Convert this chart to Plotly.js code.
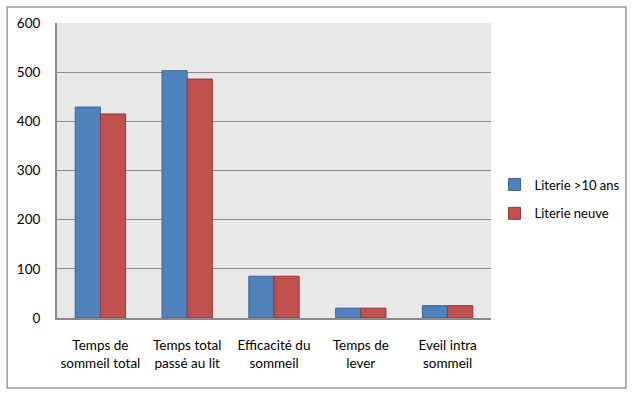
<!DOCTYPE html>
<html><head><meta charset="utf-8">
<script src="https://cdn.plot.ly/plotly-3.0.1.min.js"></script>
<style>body{margin:0;background:#fff}#c{width:634px;height:398px}</style>
</head><body><div id="c"></div>
<script>
const categories = ["Temps de<br>sommeil total", "Temps total<br>passé au lit", "Efficacité du<br>sommeil", "Temps de<br>lever", "Eveil intra<br>sommeil"];
const seriesNames = ["Literie >10 ans", "Literie neuve"];
const oldBedding = [429, 503, 85, 20, 25];
const newBedding = [415, 486, 85, 20, 25];
const yTicks = [0, 100, 200, 300, 400, 500, 600];

const font = {family: "Lato, Open Sans, sans-serif", size: 13.5, color: "#000"};
const legendFont = {family: "Lato, Open Sans, sans-serif", size: 13, color: "#000"};
const traces = [
  {type: "bar", name: seriesNames[0], x: categories, y: oldBedding, legendgroup: "a",
   marker: {color: "#4f81bd", line: {color: "#3b6596", width: 1}}},
  {type: "bar", name: seriesNames[1], x: categories, y: newBedding, legendgroup: "b",
   marker: {color: "#c0504d", line: {color: "#953a37", width: 1}}}
];
const layout = {
  width: 634, height: 398,
  margin: {l: 57, r: 143, t: 23, b: 80, autoexpand: false},
  paper_bgcolor: "#fff", plot_bgcolor: "#e8e8e8",
  font: font,
  barmode: "group", bargap: 0.42, bargroupgap: 0,
  showlegend: true,
  legend: {xref: "container", yref: "container", x: 0.78, y: 0.5, xanchor: "left", yanchor: "middle",
           traceorder: "grouped", tracegroupgap: 9, itemwidth: 30, font: legendFont, bgcolor: "rgba(0,0,0,0)"},
  xaxis: {showline: true, linecolor: "#8a8a8a", linewidth: 2, ticks: "", tickfont: font,
          ticklabelstandoff: 14, fixedrange: true, automargin: false},
  yaxis: {range: [0, 600], tickvals: yTicks, showgrid: true, gridcolor: "#8c8c8c", gridwidth: 1,
          showline: true, linecolor: "#8a8a8a", linewidth: 2, ticks: "", tickfont: font,
          ticklabelstandoff: 12, zeroline: false, fixedrange: true, automargin: false},
  shapes: [{type: "rect", xref: "paper", yref: "paper", x0: -0.115, x1: 1.311, y0: -0.237, y1: 1.054,
            line: {color: "#9a9a9a", width: 1.5}, fillcolor: "rgba(0,0,0,0)", layer: "below"}]
};
Plotly.newPlot("c", traces, layout, {displayModeBar: false, staticPlot: true});
</script></body></html>
